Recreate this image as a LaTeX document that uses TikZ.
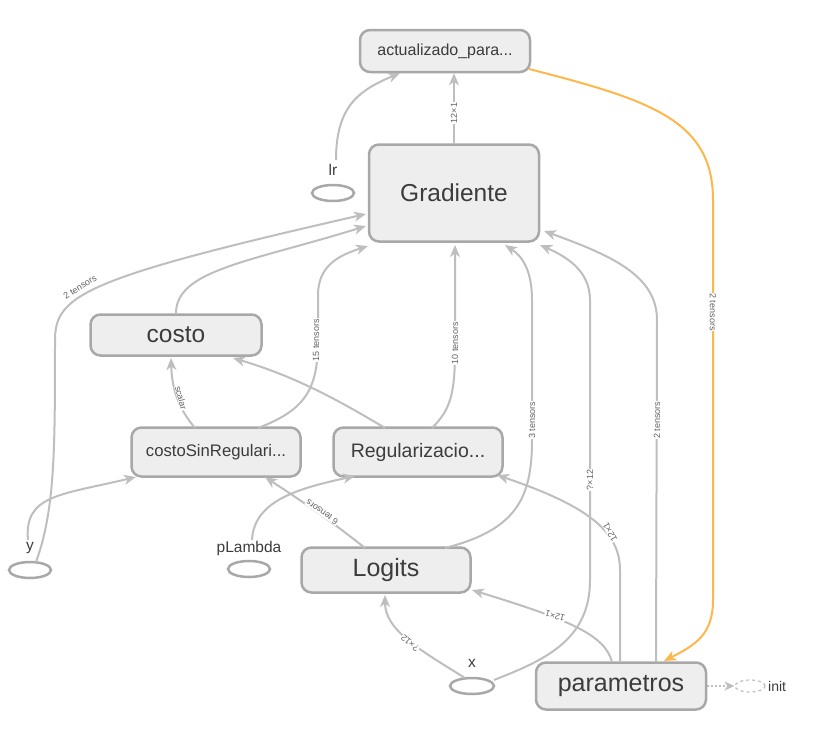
\documentclass[tikz,border=0pt]{standalone}
\usepackage{fontspec}
\setmainfont{Liberation Sans}
\usetikzlibrary{arrows.meta,shapes.geometric}
\definecolor{edgec}{RGB}{190,190,190}
\definecolor{nodeb}{RGB}{168,168,168}
\definecolor{nodef}{RGB}{238,238,238}
\definecolor{txt}{RGB}{60,60,60}
\definecolor{orng}{RGB}{255,183,77}
\tikzset{
  opbox/.style={draw=nodeb, fill=nodef, line width=2.5pt, rounded corners=10pt, text=txt, inner sep=0pt},
  phold/.style={draw=nodeb, ellipse, line width=2.5pt, minimum width=42pt, minimum height=16pt, inner sep=0pt},
  plabel/.style={text=txt, font=\fontsize{15.5}{16}\selectfont, inner sep=1pt},
  edge/.style={draw=edgec, line width=2pt, -{Stealth[length=12pt,width=10pt,inset=3.5pt]}},
  oedge/.style={draw=orng, line width=2pt, -{Stealth[length=12pt,width=10pt,inset=3.5pt]}},
  elab/.style={fill=white, text=txt!80, font=\fontsize{9}{9}\selectfont, inner sep=0.5pt}
}
\begin{document}
\begin{tikzpicture}[x=1pt,y=-1pt]
\useasboundingbox (0,0) rectangle (820,729);

% op nodes
\node[opbox, minimum width=170pt, minimum height=42pt, font=\fontsize{16}{16}\selectfont] (act) at (445,51) {actualizado\_para...};
\node[opbox, minimum width=170pt, minimum height=97pt, font=\fontsize{24.5}{24}\selectfont] (grad) at (454,193) {Gradiente};
\node[opbox, minimum width=171pt, minimum height=41pt, font=\fontsize{24.5}{24}\selectfont] (costo) at (176,335) {costo};
\node[opbox, minimum width=169pt, minimum height=49pt, font=\fontsize{16.7}{16}\selectfont] (csr) at (216,452) {costoSinRegulari...};
\node[opbox, minimum width=169pt, minimum height=49pt, font=\fontsize{19.5}{18}\selectfont] (reg) at (418,452) {Regularizacio...};
\node[opbox, minimum width=169pt, minimum height=45pt, font=\fontsize{25}{24}\selectfont] (logits) at (386,570) {Logits};
\node[opbox, minimum width=170pt, minimum height=47pt, font=\fontsize{25}{24}\selectfont] (par) at (621,686) {parametros};

% placeholders
\node[phold] (lr) at (333,193) {};
\node[plabel] (lrl) at (333,170) {lr};
\node[phold] (y) at (30,570) {};
\node[plabel] (yl) at (30,548) {y};
\node[phold] (pl) at (249,569) {};
\node[plabel] (pll) at (249,548) {pLambda};
\node[phold, minimum width=44pt] (x) at (472,686) {};
\node[plabel] (xl) at (472,663) {x};
\node[draw=edgec, dashed, ellipse, line width=1.2pt, minimum width=30pt, minimum height=12pt, inner sep=0pt] (init) at (750,686) {};
\node[text=txt, font=\fontsize{14}{14}\selectfont, anchor=west, inner sep=0pt] (initl) at (768,686) {init};

% coordinates
\coordinate (lrs) at (336,160);
\coordinate (acte) at (400,73);
\coordinate (os) at (529,69);
\coordinate (oe) at (664,661);

% edges
\draw[edge] (lrs) .. controls (336,105) and (360,90) .. (acte);
\draw[edge] (grad.north) -- (grad.north |- act.south);
\node[elab, rotate=90] at (454,113) {12×1};
\draw[oedge] (os) .. controls (650,100) and (713,120) .. (713,200) -- (713,600) .. controls (713,635) and (695,645) .. (oe);
\node[elab, rotate=-90] at (713,312) {2 tensors};

\draw[edge] (36,562) .. controls (55,510) and (55,450) .. (55,340) .. controls (55,295) and (85,278) .. (366,214);
\node[elab, rotate=32] at (80,287) {2 tensors};
\draw[edge] (28,540) .. controls (24,495) and (60,495) .. (136,477);

\draw[edge] (costo.north) .. controls (176,270) and (250,262) .. (366,226);
\draw[edge] (258,428) .. controls (305,410) and (318,390) .. (318,340) -- (318,295) .. controls (318,265) and (340,255) .. (368,246);
\node[elab, rotate=90] at (316,340) {15 tensors};
\draw[edge] (432,428) .. controls (450,410) and (455,395) .. (455,350) -- (455,245);
\node[elab, rotate=90] at (455,343) {10 tensors};
\draw[edge] (445,548) .. controls (515,530) and (532,500) .. (532,440) -- (532,300) .. controls (532,270) and (522,256) .. (505,245);
\node[elab, rotate=90] at (532,420) {3 tensors};
\draw[edge] (494,680) .. controls (545,660) and (590,640) .. (590,580) -- (590,300) .. controls (590,270) and (565,256) .. (540,245);
\node[elab, rotate=90] at (590,480) {?×12};
\draw[edge] (656,662) -- (657,320) .. controls (657,275) and (610,255) .. (544,231);
\node[elab, rotate=90] at (657,420) {2 tensors};

\draw[edge] (195,428) .. controls (180,410) and (172,392) .. (171,358);
\node[elab, rotate=-75] at (181,398) {scalar};
\draw[edge] (385,428) .. controls (330,395) and (290,375) .. (233,358);
\draw[edge] (252,540) .. controls (254,500) and (300,488) .. (355,476);
\draw[edge] (365,548) .. controls (330,520) and (300,500) .. (265,477);
\node[elab, rotate=145] at (322,512) {6 tensors};
\draw[edge] (620,662) -- (620,570) .. controls (620,530) and (585,505) .. (497,475);
\node[elab, rotate=118] at (610,532) {12×1};
\draw[edge] (612,662) .. controls (605,635) and (570,620) .. (472,590);
\node[elab, rotate=163] at (555,616) {12×1};
\draw[edge] (465,678) .. controls (420,650) and (385,630) .. (385,595);
\node[elab, rotate=140] at (410,643) {?×12};

\draw[draw=edgec, line width=1.5pt, dash pattern=on 2pt off 2pt, -{Stealth[length=10pt,width=9pt,inset=3pt]}] (par.east) -- (init.west);
\end{tikzpicture}
\end{document}
